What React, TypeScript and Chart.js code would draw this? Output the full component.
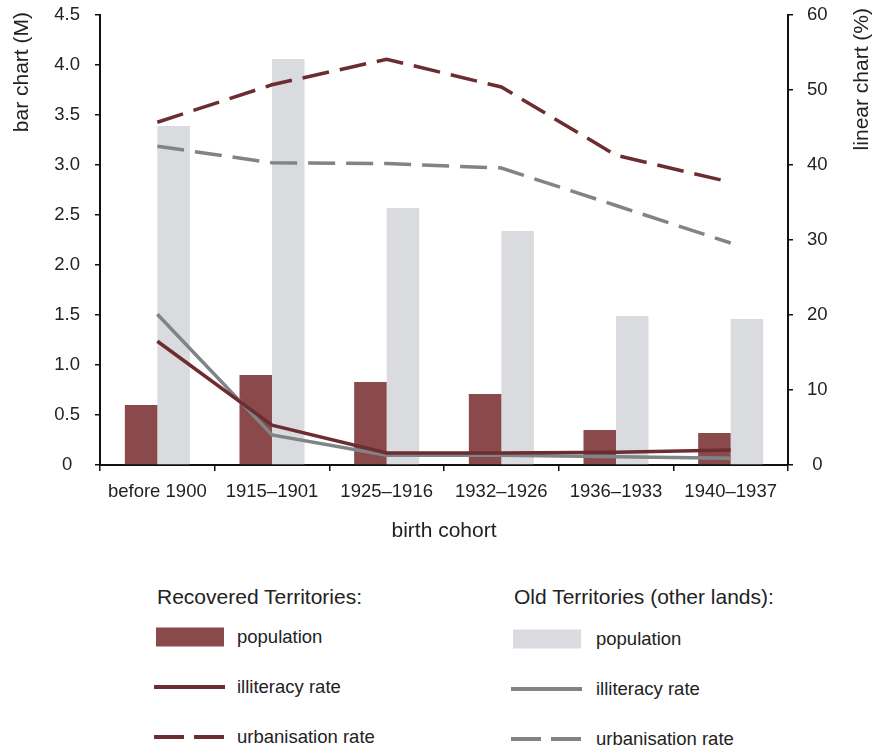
import React, { useEffect, useRef } from 'react';
import { Chart, registerables } from 'chart.js';

Chart.register(...registerables);

const categories = ['before 1900', '1915–1901', '1925–1916', '1932–1926', '1936–1933', '1940–1937'];
const recoveredPopulation = [0.6, 0.9, 0.83, 0.71, 0.35, 0.32];
const oldPopulation = [3.39, 4.06, 2.57, 2.34, 1.49, 1.46];
const recoveredIlliteracy = [16.5, 5.3, 1.6, 1.6, 1.7, 2.0];
const oldIlliteracy = [20.1, 4.0, 1.3, 1.3, 1.1, 0.9];
const recoveredUrbanisation = [45.7, 50.7, 54.1, 50.4, 41.3, 37.7];
const oldUrbanisation = [42.5, 40.3, 40.2, 39.6, 34.6, 29.6];

const leftTitle = 'bar chart (M)';
const rightTitle = 'linear chart (%)';
const xTitle = 'birth cohort';

const FONT = '"Liberation Sans", Arial, Helvetica, sans-serif';
const TEXT = '#222222';
const AXIS = '#111111';
const RED_BAR = '#8A4A4C';
const GREY_BAR = '#DADBDF';
const RED_LINE = '#6C2D31';
const GREY_LINE = '#7F8487';
const DASH = [27, 11];

const verticalTitles = {
  id: 'verticalTitles',
  afterDraw(chart: any) {
    const ctx = chart.ctx;
    ctx.save();
    ctx.font = `21px ${FONT}`;
    ctx.fillStyle = TEXT;
    ctx.textBaseline = 'middle';
    ctx.textAlign = 'right';
    ctx.save();
    ctx.translate(22, 12);
    ctx.rotate(-Math.PI / 2);
    ctx.fillText(leftTitle, 0, 0);
    ctx.restore();
    ctx.save();
    ctx.translate(862, 8);
    ctx.rotate(-Math.PI / 2);
    ctx.fillText(rightTitle, 0, 0);
    ctx.restore();
    ctx.restore();
  },
};

function ChartCanvas() {
  const ref = useRef<HTMLCanvasElement | null>(null);
  useEffect(() => {
    if (!ref.current) return;
    const tickFont = { family: FONT, size: 18.5 };
    const chart = new Chart(ref.current, {
      type: 'bar',
      data: {
        labels: categories,
        datasets: [
          {
            type: 'line',
            label: 'Recovered illiteracy rate',
            data: recoveredIlliteracy,
            yAxisID: 'y2',
            borderColor: RED_LINE,
            borderWidth: 3.5,
            pointRadius: 0,
            fill: false,
            order: 0,
          } as any,
          {
            type: 'line',
            label: 'Old illiteracy rate',
            data: oldIlliteracy,
            yAxisID: 'y2',
            borderColor: GREY_LINE,
            borderWidth: 3.5,
            pointRadius: 0,
            fill: false,
            order: 0,
          },
          {
            type: 'line',
            label: 'Recovered urbanisation rate',
            data: recoveredUrbanisation,
            yAxisID: 'y2',
            borderColor: RED_LINE,
            borderWidth: 3.5,
            borderDash: DASH,
            pointRadius: 0,
            fill: false,
            order: 0,
          },
          {
            type: 'line',
            label: 'Old urbanisation rate',
            data: oldUrbanisation,
            yAxisID: 'y2',
            borderColor: GREY_LINE,
            borderWidth: 3.5,
            borderDash: DASH,
            pointRadius: 0,
            fill: false,
            order: 0,
          },
          {
            type: 'bar',
            label: 'Recovered population',
            data: recoveredPopulation,
            yAxisID: 'y',
            backgroundColor: RED_BAR,
            borderWidth: 0,
            categoryPercentage: 0.567,
            barPercentage: 1.0,
            order: 1,
          },
          {
            type: 'bar',
            label: 'Old population',
            data: oldPopulation,
            yAxisID: 'y',
            backgroundColor: GREY_BAR,
            borderWidth: 0,
            categoryPercentage: 0.567,
            barPercentage: 1.0,
            order: 1,
          },
        ],
      },
      options: {
        animation: false,
        responsive: false,
        maintainAspectRatio: false,
        layout: { padding: { top: 15, left: 0, right: 0, bottom: 0 } },
        plugins: { legend: { display: false }, tooltip: { enabled: false } },
        scales: {
          x: {
            type: 'category',
            offset: true,
            grid: {
              display: true,
              drawOnChartArea: false,
              offset: true,
              tickLength: 6,
              color: AXIS,
              lineWidth: 1.5,
            },
            border: { display: true, color: AXIS, width: 2 },
            ticks: { font: tickFont, color: TEXT, padding: 10, maxRotation: 0, autoSkip: false },
            title: {
              display: true,
              text: xTitle,
              color: TEXT,
              font: { family: FONT, size: 21 },
              padding: { top: 0, bottom: 16 },
            },
            afterFit: (s: any) => {
              s.height = 95;
              s.paddingLeft = 0;
              s.paddingRight = 0;
            },
          },
          y: {
            type: 'linear',
            position: 'left',
            min: 0,
            max: 4.5,
            ticks: {
              stepSize: 0.5,
              font: tickFont,
              color: TEXT,
              padding: 15,
              crossAlign: 'center',
              callback: (v: any) => (Number(v) === 0 ? '0' : Number(v).toFixed(1)),
            },
            grid: { drawOnChartArea: false, tickLength: 5, color: AXIS, lineWidth: 1.5 },
            border: { display: true, color: AXIS, width: 2 },
            afterFit: (s: any) => {
              s.width = 100;
              s.paddingTop = 0;
              s.paddingBottom = 0;
            },
          },
          y2: {
            type: 'linear',
            position: 'right',
            min: 0,
            max: 60,
            ticks: {
              stepSize: 10,
              font: tickFont,
              color: TEXT,
              padding: 14,
              crossAlign: 'center',
            },
            grid: { drawOnChartArea: false, tickLength: 5, color: AXIS, lineWidth: 1.5 },
            border: { display: true, color: AXIS, width: 2 },
            afterFit: (s: any) => {
              s.width = 86;
              s.paddingTop = 0;
              s.paddingBottom = 0;
            },
          },
        },
      } as any,
      plugins: [verticalTitles],
    });
    return () => chart.destroy();
  }, []);
  return <canvas ref={ref} width={874} height={560} style={{ width: 874, height: 560, display: 'block' }} />;
}

type SwatchKind = 'bar' | 'line' | 'dash';

function Swatch({ kind, color, x, y, w, h }: { kind: SwatchKind; color: string; x: number; y: number; w: number; h: number }) {
  return (
    <svg style={{ position: 'absolute', left: x, top: y - 12 }} width={w} height={24}>
      {kind === 'bar' && <rect x={0} y={12 - h / 2} width={w} height={h} fill={color} />}
      {kind === 'line' && <line x1={0} x2={w} y1={12} y2={12} stroke={color} strokeWidth={4} />}
      {kind === 'dash' && (
        <line x1={0} x2={w} y1={12} y2={12} stroke={color} strokeWidth={4} strokeDasharray="30 10" />
      )}
    </svg>
  );
}

function Label({ text, x, cy, size }: { text: string; x: number; cy: number; size: number }) {
  return (
    <div
      style={{
        position: 'absolute',
        left: x,
        top: cy - 15,
        height: 30,
        lineHeight: '30px',
        fontSize: size,
        whiteSpace: 'nowrap',
        color: TEXT,
      }}
    >
      {text}
    </div>
  );
}

const legendGroups = [
  {
    title: 'Recovered Territories:',
    x: 157,
    textX: 237,
    swatchX: 156,
    dy: 0,
    items: [
      { kind: 'bar' as SwatchKind, color: RED_BAR, text: 'population' },
      { kind: 'line' as SwatchKind, color: RED_LINE, text: 'illiteracy rate' },
      { kind: 'dash' as SwatchKind, color: RED_LINE, text: 'urbanisation rate' },
    ],
  },
  {
    title: 'Old Territories (other lands):',
    x: 514,
    textX: 596,
    swatchX: 513,
    dy: 1.5,
    items: [
      { kind: 'bar' as SwatchKind, color: GREY_BAR, text: 'population' },
      { kind: 'line' as SwatchKind, color: GREY_LINE, text: 'illiteracy rate' },
      { kind: 'dash' as SwatchKind, color: GREY_LINE, text: 'urbanisation rate' },
    ],
  },
];

const rowY = [637, 687, 737];

export default function App() {
  return (
    <div
      style={{
        position: 'fixed',
        left: 0,
        top: 0,
        width: 874,
        height: 746,
        background: '#ffffff',
        fontFamily: FONT,
        overflow: 'hidden',
      }}
    >
      <div style={{ position: 'absolute', left: 0, top: 0, width: 874, height: 560 }}>
        <ChartCanvas />
      </div>
      {legendGroups.map((g) => (
        <React.Fragment key={g.title}>
          <Label text={g.title} x={g.x} cy={597} size={21} />
          {g.items.map((it, i) => (
            <React.Fragment key={it.text}>
              <Swatch
                kind={it.kind}
                color={it.color}
                x={g.swatchX - (it.kind === 'bar' ? 0 : 2)}
                y={rowY[i] + g.dy}
                w={it.kind === 'bar' ? 68 : 71}
                h={19}
              />
              <Label text={it.text} x={g.textX} cy={rowY[i] + g.dy} size={18.5} />
            </React.Fragment>
          ))}
        </React.Fragment>
      ))}
    </div>
  );
}
